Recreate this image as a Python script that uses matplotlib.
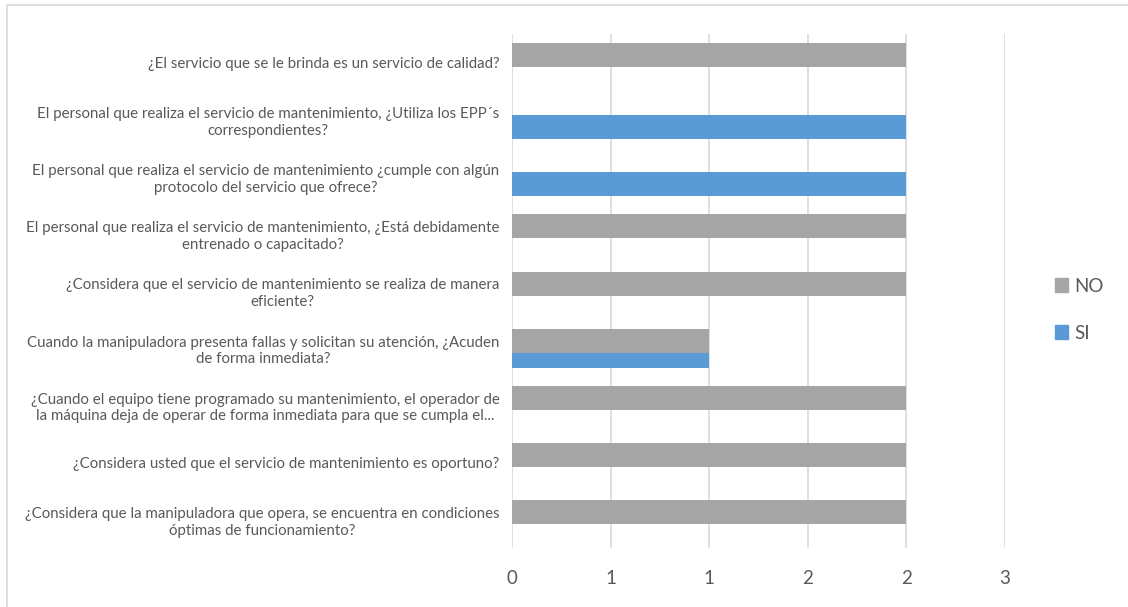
import matplotlib.pyplot as plt
from matplotlib.patches import Rectangle, Patch
from matplotlib.ticker import FuncFormatter
import numpy as np

# questions listed bottom to top, as they sit on the y axis
preguntas = [
    "¿Considera que la manipuladora que opera, se encuentra en condiciones\nóptimas de funcionamiento?",
    "¿Considera usted que el servicio de mantenimiento es oportuno?",
    "¿Cuando el equipo tiene programado su mantenimiento, el operador de\nla máquina deja de operar de forma inmediata para que se cumpla el...",
    "Cuando la manipuladora presenta fallas y solicitan su atención, ¿Acuden\nde forma inmediata?",
    "¿Considera que el servicio de mantenimiento se realiza de manera\neficiente?",
    "El personal que realiza el servicio de mantenimiento, ¿Está debidamente\nentrenado o capacitado?",
    "El personal que realiza el servicio de mantenimiento ¿cumple con algún\nprotocolo del servicio que ofrece?",
    "El personal que realiza el servicio de mantenimiento, ¿Utiliza los EPP´s\ncorrespondientes?",
    "¿El servicio que se le brinda es un servicio de calidad?",
]
no_vals = [2, 2, 2, 1, 2, 2, 0, 0, 2]
si_vals = [0, 0, 0, 1, 0, 0, 2, 2, 0]

gris = '#a5a5a5'
azul = '#5b9bd5'
txt = '#595959'

plt.rcParams['font.family'] = ['Lato', 'DejaVu Sans']

fig = plt.figure(figsize=(11.28, 6.07), dpi=100)
ax = fig.add_axes([0.4539, 0.0972, 0.4371, 0.8468])

y = np.arange(len(preguntas))
h = 0.42
off = 0.131
# SI first so the NO bar sits on top where they overlap
ax.barh(y - off, si_vals, height=h, color=azul, zorder=2)
ax.barh(y + off, no_vals, height=h, color=gris, zorder=3)

ax.set_xlim(0, 2.5)
ax.set_ylim(-0.5, len(preguntas) - 0.5)
ax.set_xticks(np.arange(0, 2.51, 0.5))
ax.xaxis.set_major_formatter(FuncFormatter(lambda v, p: str(int(np.floor(v + 0.5)))))
ax.set_yticks(y)
ax.set_yticklabels(preguntas, multialignment='center', fontsize=10.8,
                   color=txt, linespacing=1.25)
ax.tick_params(axis='y', length=0, pad=9)
ax.tick_params(axis='x', length=0, pad=16, labelsize=13.5, labelcolor=txt)
ax.grid(axis='x', color='#d9d9d9', linewidth=1.2, zorder=0)
ax.set_axisbelow(True)
for s in ax.spines.values():
    s.set_visible(False)

handles = [Patch(color=gris, label='NO'), Patch(color=azul, label='SI')]
fig.legend(handles=handles, loc='center left', bbox_to_anchor=(0.92, 0.49),
           frameon=False, fontsize=13.5, labelcolor=txt, handlelength=0.7,
           handleheight=0.7, handletextpad=0.35, labelspacing=1.6)

# outer chart border
fig.patches.append(Rectangle((7 / 1128, -0.01), 1.0, 1 - 5 / 607 + 0.01,
                             transform=fig.transFigure, fill=False,
                             edgecolor='#d9d9d9', linewidth=1.2))

fig.savefig('out.png', dpi=100, facecolor='white')
